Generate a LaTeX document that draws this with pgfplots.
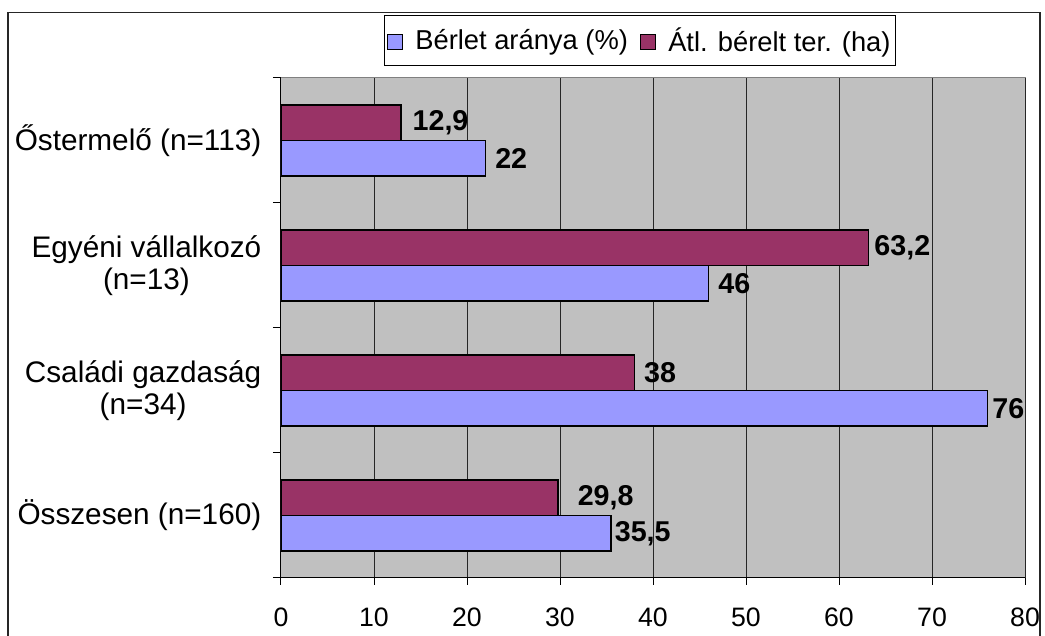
\documentclass[border=0pt]{standalone}
\usepackage{fontspec}
\setmainfont{Liberation Sans}
\usepackage{pgfplots}
\pgfplotsset{compat=1.18}
\definecolor{berlet}{HTML}{9999FF}
\definecolor{atl}{HTML}{993366}
\definecolor{plotbg}{HTML}{C0C0C0}
\definecolor{frame}{HTML}{808080}
\begin{document}
\begin{tikzpicture}
\useasboundingbox (0,0) rectangle (783.75pt,476.25pt);
\draw[line width=1.1pt, black!85] (6pt,-5pt) rectangle (780pt,466.7pt);
\begin{axis}[
    at={(210.75pt,42.75pt)}, anchor=south west,
    scale only axis, width=558pt, height=375pt,
    xbar=0pt, bar width=26.6pt,
    xmin=0, xmax=80, ymin=-0.5, ymax=3.5,
    xtick={0,10,...,80},
    ytick={0,1,2,3},
    yticklabels={{Összesen (n=160)}, {Családi gazdaság\\(n=34)},
                 {Egyéni vállalkozó\\(n=13)}, {Őstermelő (n=113)}},
    minor ytick={-0.5,0.5,1.5,2.5,3.5},
    y tick style={draw=none},
    minor y tick style={draw=black, line width=0.75pt},
    x tick style={draw=black, line width=0.75pt},
    tick align=outside,
    major tick length=5.25pt, minor tick length=6pt,
    xmajorgrids, grid style={black!85, line width=0.75pt},
    axis lines*=left,
    axis line style={black, line width=0.75pt, -},
    axis background/.style={fill=plotbg, draw=frame, line width=0.75pt},
    /pgf/number format/assume math mode=true,
    x tick label style={font=\fontsize{20}{22}\selectfont, yshift=-14pt},
    y tick label style={font=\fontsize{22.3}{24}\selectfont, align=center, xshift=-6pt},
    point meta=explicit symbolic,
    nodes near coords,
    every node near coord/.append style={anchor=west, inner sep=0pt,
        font=\bfseries\fontsize{21.5}{24}\selectfont},
    legend columns=2,
    legend style={at={(0.4825,1.075)}, anchor=center, draw=black,
        line width=0.75pt, fill=white, inner xsep=2pt, inner ysep=7pt,
        font=\fontsize{20.5}{24}\selectfont,
        /tikz/every odd column/.append style={column sep=7.5pt},
        /tikz/every even column/.append style={column sep=6.75pt}},
    legend image code/.code={\draw[#1, line width=0.75pt] (0pt,-6.5pt) rectangle (11.2pt,4.7pt);},
]
\addplot[fill=berlet, draw=black, line width=1pt] coordinates {
  (35.5,0) [{\kern2.25pt 35,5}]
  (76,1)   [{\kern3pt 76}]
  (46,2)   [{\kern6.75pt 46}]
  (22,3)   [{\kern6.75pt 22}]
};
\addplot[fill=atl, draw=black, line width=1pt] coordinates {
  (29.8,0) [{\kern14.25pt 29,8}]
  (38,1)   [{\kern6.75pt 38}]
  (63.2,2) [{\kern3.75pt 63,2}]
  (12.9,3) [{\kern8.25pt 12,9}]
};
\legend{Bérlet aránya (\%), Átl. bérelt ter. (ha)}
\end{axis}
\end{tikzpicture}
\end{document}
